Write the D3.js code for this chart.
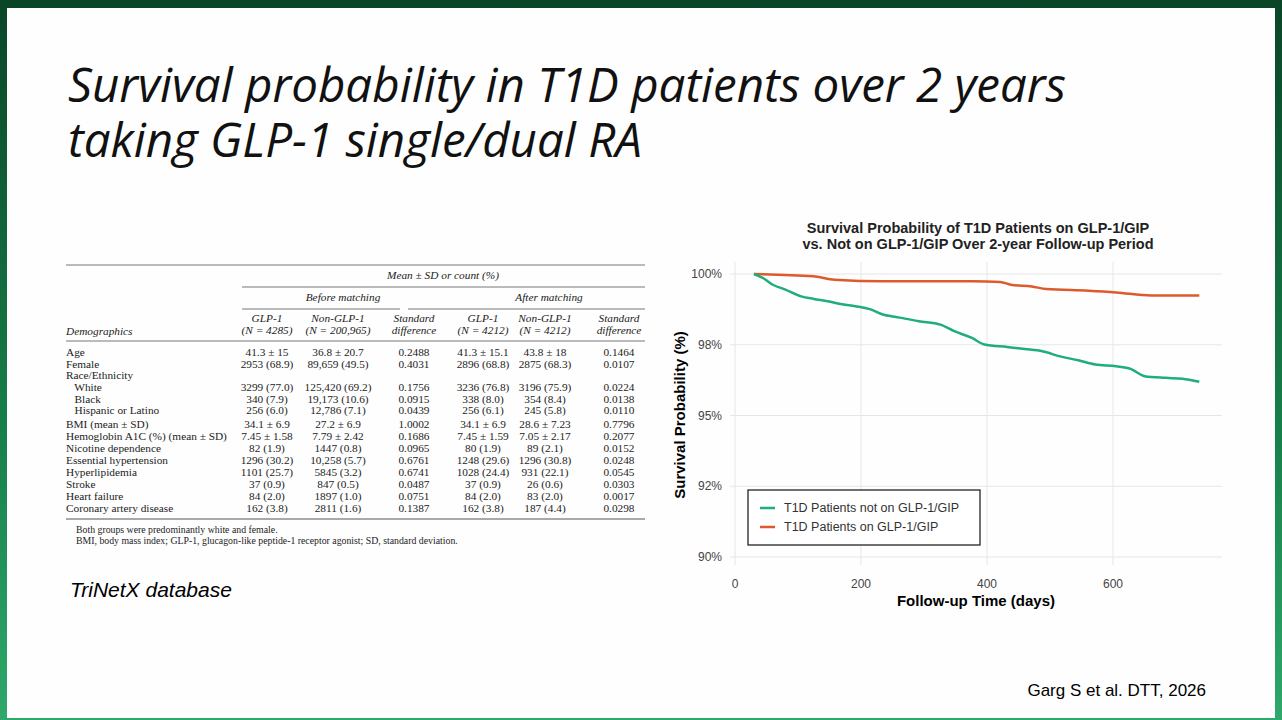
<!DOCTYPE html>
<html><head><meta charset="utf-8">
<script src="https://cdn.jsdelivr.net/npm/d3@7"></script>
<style>body{margin:0;overflow:hidden}</style>
</head><body><svg id="slide"></svg>
<script>
const W = 1282, H = 720;

// survival curves (day, %)
const notOnDays = [30, 45, 60, 80, 105, 125, 147, 170, 191, 214, 236, 250, 264, 292, 326, 348, 376, 396, 432, 460, 488, 516, 545, 572, 605, 628, 650, 684, 710, 737];
const notOnVals = [100, 99.85, 99.62, 99.45, 99.21, 99.12, 99.04, 98.93, 98.86, 98.76, 98.56, 98.5, 98.45, 98.33, 98.21, 97.98, 97.74, 97.51, 97.42, 97.35, 97.27, 97.09, 96.95, 96.8, 96.74, 96.65, 96.39, 96.33, 96.3, 96.19];
const onDays = [30, 124, 158, 236, 376, 421, 438, 471, 494, 561, 605, 661, 737];
const onVals = [100, 99.92, 99.8, 99.74, 99.74, 99.72, 99.62, 99.56, 99.47, 99.41, 99.35, 99.24, 99.24];
const yTicks = [90, 92.5, 95, 97.5, 100];
const yTickLabels = ['90%', '92%', '95%', '98%', '100%'];
const xTicks = [0, 200, 400, 600];
const titleLines = ['Survival probability in T1D patients over 2 years', 'taking GLP-1 single/dual RA'];

// table
const colHeads = [["GLP-1", "(N = 4285)"], ["Non-GLP-1", "(N = 200,965)"], ["Standard", "difference"],
                  ["GLP-1", "(N = 4212)"], ["Non-GLP-1", "(N = 4212)"], ["Standard", "difference"]];
const rowLabels = ["Age", "Female", "Race/Ethnicity", "   White", "   Black", "   Hispanic or Latino", "BMI (mean ± SD)",
  "Hemoglobin A1C (%) (mean ± SD)", "Nicotine dependence", "Essential hypertension", "Hyperlipidemia", "Stroke",
  "Heart failure", "Coronary artery disease"];
const rowValues = [
  ["41.3 ± 15", "36.8 ± 20.7", "0.2488", "41.3 ± 15.1", "43.8 ± 18", "0.1464"],
  ["2953 (68.9)", "89,659 (49.5)", "0.4031", "2896 (68.8)", "2875 (68.3)", "0.0107"],
  ["", "", "", "", "", ""],
  ["3299 (77.0)", "125,420 (69.2)", "0.1756", "3236 (76.8)", "3196 (75.9)", "0.0224"],
  ["340 (7.9)", "19,173 (10.6)", "0.0915", "338 (8.0)", "354 (8.4)", "0.0138"],
  ["256 (6.0)", "12,786 (7.1)", "0.0439", "256 (6.1)", "245 (5.8)", "0.0110"],
  ["34.1 ± 6.9", "27.2 ± 6.9", "1.0002", "34.1 ± 6.9", "28.6 ± 7.23", "0.7796"],
  ["7.45 ± 1.58", "7.79 ± 2.42", "0.1686", "7.45 ± 1.59", "7.05 ± 2.17", "0.2077"],
  ["82 (1.9)", "1447 (0.8)", "0.0965", "80 (1.9)", "89 (2.1)", "0.0152"],
  ["1296 (30.2)", "10,258 (5.7)", "0.6761", "1248 (29.6)", "1296 (30.8)", "0.0248"],
  ["1101 (25.7)", "5845 (3.2)", "0.6741", "1028 (24.4)", "931 (22.1)", "0.0545"],
  ["37 (0.9)", "847 (0.5)", "0.0487", "37 (0.9)", "26 (0.6)", "0.0303"],
  ["84 (2.0)", "1897 (1.0)", "0.0751", "84 (2.0)", "83 (2.0)", "0.0017"],
  ["162 (3.8)", "2811 (1.6)", "0.1387", "162 (3.8)", "187 (4.4)", "0.0298"]];

const svg = d3.select('#slide').attr('width', W).attr('height', H);
const defs = svg.append('defs');
const g1 = defs.append('linearGradient').attr('id', 'frame').attr('x1', 0).attr('y1', 0).attr('x2', 0).attr('y2', 1);
g1.append('stop').attr('offset', '0%').attr('stop-color', '#0a4528');
g1.append('stop').attr('offset', '60%').attr('stop-color', '#17804a');
g1.append('stop').attr('offset', '100%').attr('stop-color', '#2fa86a');
svg.append('rect').attr('width', W).attr('height', H).attr('fill', 'url(#frame)');
svg.append('rect').attr('x', 7).attr('y', 8).attr('width', W - 14).attr('height', H - 10).attr('fill', '#fefefe');

// slide title
svg.append('g').selectAll('text').data(titleLines).join('text')
  .attr('x', 68).attr('y', (d, i) => 102 + i * 55)
  .attr('font-family', 'Open Sans, sans-serif').attr('font-style', 'italic')
  .attr('font-size', 47.5).attr('fill', '#111').text(d => d);

svg.append('text').attr('x', 70).attr('y', 597).attr('font-family', 'Liberation Sans, Arial').attr('font-style', 'italic')
  .attr('font-size', 21).text('TriNetX database');
svg.append('text').attr('x', 1206).attr('y', 696).attr('text-anchor', 'end').attr('font-family', 'Liberation Sans, Arial')
  .attr('font-size', 17).text('Garg S et al. DTT, 2026');

// ---------- table ----------
const tbl = svg.append('g').attr('font-family', 'Liberation Serif, serif').attr('font-size', 11.3).attr('fill', '#222');
const colX = [267, 338, 414, 483, 545, 619];
const rule = (x1, x2, y, w) => tbl.append('line').attr('x1', x1).attr('x2', x2).attr('y1', y).attr('y2', y)
  .attr('stroke', '#555').attr('stroke-width', w || 0.8);
rule(66, 645, 265); rule(242, 645, 287); rule(242, 400, 309); rule(408, 645, 309); rule(66, 645, 341); rule(66, 645, 519, 1);
tbl.append('text').attr('x', 443).attr('y', 279).attr('text-anchor', 'middle').attr('font-style', 'italic').text('Mean ± SD or count (%)');
tbl.append('text').attr('x', 343).attr('y', 301).attr('text-anchor', 'middle').attr('font-style', 'italic').text('Before matching');
tbl.append('text').attr('x', 549).attr('y', 301).attr('text-anchor', 'middle').attr('font-style', 'italic').text('After matching');
tbl.append('text').attr('x', 66).attr('y', 335).attr('font-style', 'italic').text('Demographics');
colHeads.forEach((h, i) => {
  h.forEach((s, j) => tbl.append('text').attr('x', colX[i]).attr('y', 322 + j * 12).attr('text-anchor', 'middle')
    .attr('font-style', 'italic').text(s));
});
const rowY = [356, 368, 379, 391, 403, 414, 428, 440, 452, 464, 476, 488, 500, 512];
rowLabels.forEach((lab, r) => {
  tbl.append('text').attr('x', 66).attr('y', rowY[r]).attr('xml:space', 'preserve').text(lab);
  rowValues[r].forEach((v, c) => tbl.append('text').attr('x', colX[c]).attr('y', rowY[r]).attr('text-anchor', 'middle').text(v));
});
tbl.append('text').attr('x', 76).attr('y', 533).attr('font-size', 9.8).text('Both groups were predominantly white and female.');
tbl.append('text').attr('x', 76).attr('y', 544).attr('font-size', 9.8)
  .text('BMI, body mass index; GLP-1, glucagon-like peptide-1 receptor agonist; SD, standard deviation.');

// ---------- chart ----------
const xScale = d3.scaleLinear().domain([0, 600]).range([735, 1113]);
const yScale = d3.scaleLinear().domain([90, 100]).range([557, 274]);
const ch = svg.append('g').attr('font-family', 'Liberation Sans, Arial');
ch.append('g').selectAll('line').data(yTicks).join('line')
  .attr('x1', 730).attr('x2', 1222).attr('y1', d => yScale(d)).attr('y2', d => yScale(d)).attr('stroke', '#e6e6e6');
ch.append('g').selectAll('line').data(xTicks).join('line')
  .attr('y1', 262).attr('y2', 565).attr('x1', d => xScale(d)).attr('x2', d => xScale(d)).attr('stroke', '#e6e6e6');
ch.append('g').selectAll('text').data(yTicks).join('text')
  .attr('x', 722).attr('y', d => yScale(d) + 4).attr('text-anchor', 'end').attr('font-size', 12).attr('fill', '#444')
  .text((d, i) => yTickLabels[i]);
ch.append('g').selectAll('text').data(xTicks).join('text')
  .attr('x', d => xScale(d)).attr('y', 588).attr('text-anchor', 'middle').attr('font-size', 12).attr('fill', '#444').text(d => d);
ch.append('text').attr('x', 976).attr('y', 606).attr('text-anchor', 'middle').attr('font-weight', 'bold').attr('font-size', 15)
  .text('Follow-up Time (days)');
ch.append('text').attr('transform', 'translate(685,415) rotate(-90)').attr('text-anchor', 'middle').attr('font-weight', 'bold')
  .attr('font-size', 15).text('Survival Probability (%)');
ch.append('text').attr('x', 978).attr('y', 233).attr('text-anchor', 'middle').attr('font-weight', 'bold').attr('font-size', 14.5)
  .attr('fill', '#222').text('Survival Probability of T1D Patients on GLP-1/GIP');
ch.append('text').attr('x', 978).attr('y', 249).attr('text-anchor', 'middle').attr('font-weight', 'bold').attr('font-size', 14.5)
  .attr('fill', '#222').text('vs. Not on GLP-1/GIP Over 2-year Follow-up Period');

const line = d3.line().x(d => xScale(d[0])).y(d => yScale(d[1])).curve(d3.curveMonotoneX);
ch.append('path').datum(d3.zip(onDays, onVals)).attr('d', line).attr('fill', 'none').attr('stroke', '#dd5a2b').attr('stroke-width', 2.5);
ch.append('path').datum(d3.zip(notOnDays, notOnVals)).attr('d', line).attr('fill', 'none').attr('stroke', '#1fae7a').attr('stroke-width', 2.5);

const lg = ch.append('g');
lg.append('rect').attr('x', 748).attr('y', 490).attr('width', 232).attr('height', 55).attr('fill', '#fff').attr('stroke', '#111').attr('stroke-width', 1.2);
[['T1D Patients not on GLP-1/GIP', '#1fae7a'], ['T1D Patients on GLP-1/GIP', '#dd5a2b']].forEach((d, i) => {
  const y = 508 + i * 19;
  lg.append('line').attr('x1', 760).attr('x2', 775).attr('y1', y).attr('y2', y).attr('stroke', d[1]).attr('stroke-width', 2.5);
  lg.append('text').attr('x', 784).attr('y', y + 4).attr('font-size', 12.5).attr('fill', '#333').text(d[0]);
});
</script></body></html>
